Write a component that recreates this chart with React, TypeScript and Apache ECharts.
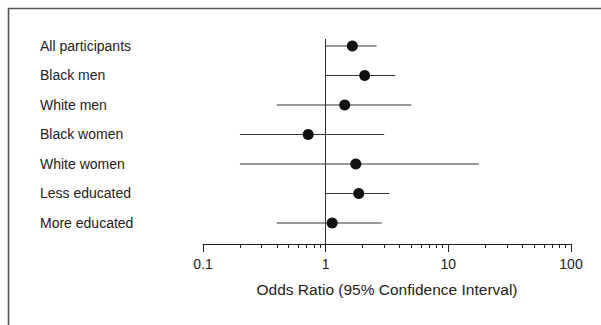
import React, { useEffect, useRef } from "react";
import * as echarts from "echarts";

const categories = [
  "All participants",
  "Black men",
  "White men",
  "Black women",
  "White women",
  "Less educated",
  "More educated",
];
const oddsRatio = [1.65, 2.08, 1.43, 0.72, 1.76, 1.86, 1.13];
const ciLow = [1.0, 1.0, 0.4, 0.2, 0.2, 1.0, 0.4];
const ciHigh = [2.6, 3.7, 5.0, 3.0, 17.7, 3.3, 2.86];
const majorTicks = [0.1, 1, 10, 100];
const minorTicks = [
  0.2, 0.3, 0.4, 0.5, 0.6, 0.7, 0.8, 0.9,
  2, 3, 4, 5, 6, 7, 8, 9,
  20, 30, 40, 50, 60, 70, 80, 90,
];
const rowIndex = categories.map((_, i) => i);

const FONT = "'Liberation Sans', Arial, sans-serif";

export default function App() {
  const ref = useRef<HTMLDivElement>(null);
  useEffect(() => {
    if (!ref.current) return;
    const chart = echarts.init(ref.current, undefined, { renderer: "svg" });
    const option: any = {
      animation: false,
      backgroundColor: "#ffffff",
      textStyle: { fontFamily: FONT },
      graphic: [
        {
          type: "rect",
          shape: { x: 8.5, y: 8.5, width: 700, height: 400 },
          style: { fill: "none", stroke: "#555555", lineWidth: 1.6 },
          silent: true,
        },
      ],
      grid: { left: 203, right: 30, top: 39, bottom: 81 },
      xAxis: [
        {
          type: "log",
          logBase: 10,
          min: 0.1,
          max: 100,
          position: "bottom",
          axisLine: { show: true, onZero: false, lineStyle: { color: "#222", width: 1 } },
          axisTick: {
            show: true,
            length: 8,
            customValues: majorTicks,
            lineStyle: { color: "#222", width: 1 },
          },
          axisLabel: {
            show: true,
            customValues: majorTicks,
            margin: 13,
            fontSize: 14,
            color: "#222",
            fontFamily: FONT,
            formatter: (v: number) => String(v),
          },
          splitLine: { show: false },
          name: "Odds Ratio (95% Confidence Interval)",
          nameLocation: "middle",
          nameGap: 37,
          nameTextStyle: { fontSize: 15.5, color: "#222", fontFamily: FONT },
        },
        {
          type: "log",
          logBase: 10,
          min: 0.1,
          max: 100,
          position: "bottom",
          axisLine: { show: false, onZero: false },
          axisTick: {
            show: true,
            length: 4,
            customValues: minorTicks,
            lineStyle: { color: "#222", width: 1 },
          },
          axisLabel: { show: false },
          splitLine: { show: false },
        },
      ],
      yAxis: {
        type: "value",
        inverse: true,
        min: -0.237,
        max: 6.712,
        axisLine: { show: false },
        axisTick: { show: false },
        splitLine: { show: false },
        axisLabel: {
          show: true,
          customValues: rowIndex,
          formatter: (v: number) => categories[Math.round(v)] ?? "",
          align: "left",
          margin: 163,
          fontSize: 14,
          color: "#222",
          fontFamily: FONT,
        },
      },
      series: [
        {
          type: "custom",
          xAxisIndex: 0,
          z: 2,
          data: rowIndex.map((i) => [ciLow[i], ciHigh[i], i]),
          encode: { x: [0, 1], y: 2 },
          renderItem: (params: any, api: any) => {
            const p1 = api.coord([api.value(0), api.value(2)]);
            const p2 = api.coord([api.value(1), api.value(2)]);
            return {
              type: "line",
              shape: { x1: p1[0], y1: p1[1], x2: p2[0], y2: p2[1] },
              style: { stroke: "#333", lineWidth: 1 },
            };
          },
        },
        {
          type: "scatter",
          xAxisIndex: 0,
          z: 5,
          symbol: "circle",
          symbolSize: 11,
          itemStyle: { color: "#111111", opacity: 1 },
          data: rowIndex.map((i) => [oddsRatio[i], i]),
          markLine: {
            silent: true,
            symbol: "none",
            label: { show: false },
            lineStyle: { type: "solid", color: "#333", width: 1 },
            data: [{ xAxis: 1 }],
          },
        },
      ],
    };
    chart.setOption(option);
    return () => chart.dispose();
  }, []);
  return (
    <div
      ref={ref}
      style={{ position: "fixed", left: 0, top: 0, width: 601, height: 325 }}
    />
  );
}
